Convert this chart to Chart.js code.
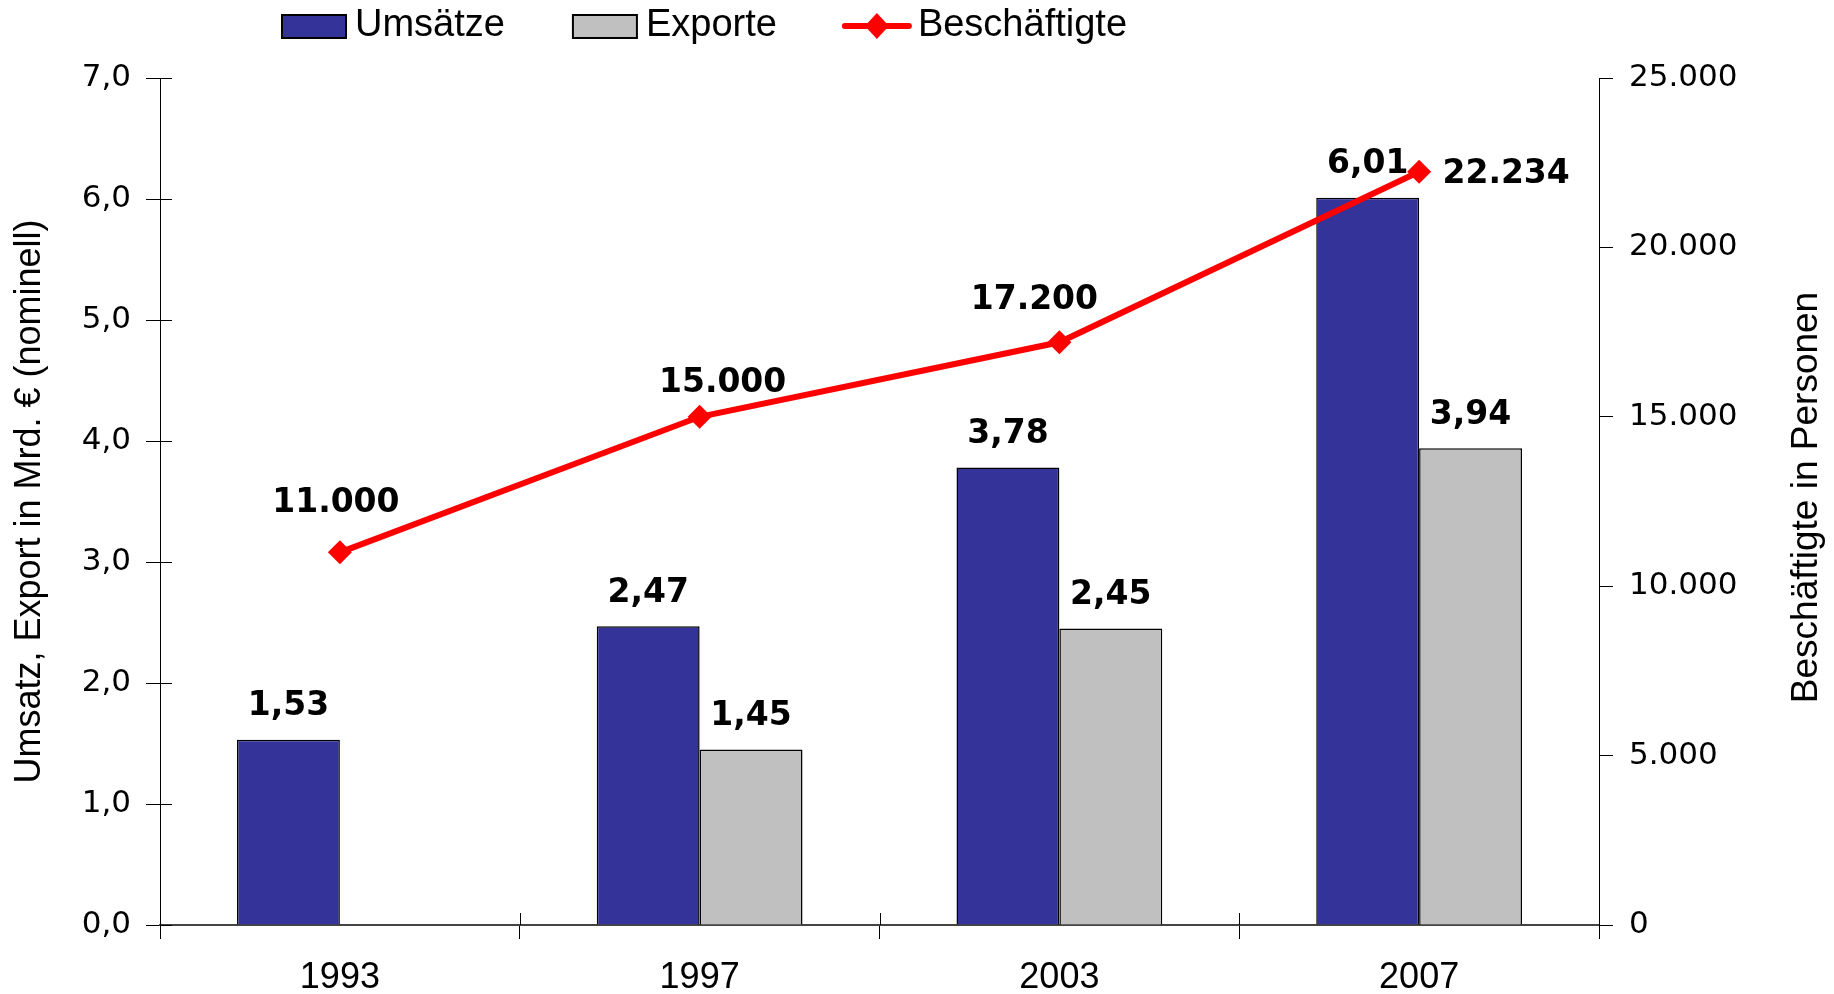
<!DOCTYPE html>
<html>
<head>
<meta charset="utf-8">
<script src="https://cdn.jsdelivr.net/npm/chart.js@4/dist/chart.umd.min.js"></script>
<style>
  html, body { margin: 0; padding: 0; background: #fff; }
</style>
</head>
<body>
<canvas id="chart" width="1834" height="994"></canvas>
<script>
var years = ['1993', '1997', '2003', '2007'];
var umsaetze = [1.53, 2.47, 3.78, 6.01];
var exporte = [null, 1.45, 2.45, 3.94];
var beschaeftigte = [11000, 15000, 17200, 22234];

// label offsets for the line values, relative to each point
var lineLabelOffsets = [[-4, -49], [23, -33], [-25, -42], [87, 3]];

var NARROW = '"Liberation Sans Narrow", "Arial Narrow", "Liberation Sans", Arial';

function de(n, d) {
  var s = n.toFixed(d).split('.');
  s[0] = s[0].replace(/\B(?=(\d{3})+(?!\d))/g, '.');
  return s.join(',');
}

var labelPlugin = {
  id: 'valueLabels',
  afterDatasetsDraw: function (chart) {
    var ctx = chart.ctx;
    ctx.save();
    ctx.font = 'bold 33px "DejaVu Sans"';
    ctx.fillStyle = '#000';
    ctx.textAlign = 'center';
    ctx.textBaseline = 'middle';
    [0, 1].forEach(function (di) {
      chart.getDatasetMeta(di).data.forEach(function (bar, i) {
        var v = chart.data.datasets[di].data[i];
        if (v == null) return;
        ctx.fillText(de(v, 2), bar.x, bar.y - 33);
      });
    });
    chart.getDatasetMeta(2).data.forEach(function (pt, i) {
      var o = lineLabelOffsets[i];
      ctx.fillText(de(beschaeftigte[i], 0), pt.x + o[0], pt.y + o[1]);
    });
    ctx.restore();
  },
  afterDraw: function (chart) {
    var ctx = chart.ctx;
    var area = chart.chartArea;

    // inner halves of the crossing tick marks (left and bottom axis)
    ctx.save();
    ctx.strokeStyle = '#000';
    ctx.lineWidth = 1;
    ctx.beginPath();
    chart.scales.y.ticks.forEach(function (t) {
      var py = Math.round(chart.scales.y.getPixelForValue(t.value)) + 0.5;
      ctx.moveTo(area.left, py);
      ctx.lineTo(area.left + 12, py);
    });
    var xs = chart.scales.x;
    for (var i = 0; i <= years.length; i++) {
      var px = Math.round(xs.left + i * xs.width / years.length) + 0.5;
      ctx.moveTo(px, area.bottom);
      ctx.lineTo(px, area.bottom - 12);
    }
    ctx.stroke();
    ctx.restore();

    ctx.save();
    // right axis title, reading bottom to top
    ctx.font = '37px ' + NARROW;
    ctx.fillStyle = '#000';
    ctx.textAlign = 'center';
    ctx.textBaseline = 'middle';
    ctx.translate(chart.scales.y1.right - 27, (area.top + area.bottom) / 2 - 4);
    ctx.rotate(-Math.PI / 2);
    ctx.fillText('Beschäftigte in Personen', 0, 0);
    ctx.restore();

    // legend
    ctx.save();
    ctx.font = '38px ' + NARROW;
    ctx.textBaseline = 'middle';
    ctx.textAlign = 'left';
    var x = 282, cy = 26;
    chart.data.datasets.forEach(function (ds) {
      if (ds.type === 'line') {
        ctx.strokeStyle = ds.borderColor;
        ctx.lineWidth = 6;
        ctx.lineCap = 'round';
        ctx.beginPath();
        ctx.moveTo(x, cy);
        ctx.lineTo(x + 64, cy);
        ctx.stroke();
        ctx.fillStyle = ds.borderColor;
        ctx.beginPath();
        ctx.moveTo(x + 32, cy - 13);
        ctx.lineTo(x + 44, cy);
        ctx.lineTo(x + 32, cy + 13);
        ctx.lineTo(x + 20, cy);
        ctx.closePath();
        ctx.fill();
      } else {
        ctx.fillStyle = ds.backgroundColor;
        ctx.fillRect(x, cy - 11, 64, 23);
        ctx.strokeStyle = '#000';
        ctx.lineWidth = 2;
        ctx.strokeRect(x, cy - 11, 64, 23);
      }
      ctx.fillStyle = '#000';
      ctx.fillText(ds.label, x + 73, cy);
      x += 73 + ctx.measureText(ds.label).width + 68;
    });
    ctx.restore();
  }
};

var ctx = document.getElementById('chart').getContext('2d');
var chart = new Chart(ctx, {
  type: 'bar',
  data: {
    labels: years,
    datasets: [
      {
        label: 'Umsätze',
        data: umsaetze,
        backgroundColor: '#333399',
        borderColor: '#000',
        borderWidth: 1.5,
        yAxisID: 'y',
        order: 1
      },
      {
        label: 'Exporte',
        data: exporte,
        backgroundColor: '#C0C0C0',
        borderColor: '#000',
        borderWidth: 1.5,
        yAxisID: 'y',
        order: 1
      },
      {
        type: 'line',
        label: 'Beschäftigte',
        data: beschaeftigte,
        borderColor: '#FF0000',
        backgroundColor: '#FF0000',
        borderWidth: 6,
        pointStyle: 'rectRot',
        pointRadius: 12,
        pointHoverRadius: 12,
        pointBorderWidth: 0,
        tension: 0,
        yAxisID: 'y1',
        order: 0
      }
    ]
  },
  options: {
    responsive: false,
    animation: false,
    devicePixelRatio: 1,
    layout: { padding: { top: 78, left: 0, right: 0, bottom: 0 } },
    datasets: {
      bar: { categoryPercentage: 0.572, barPercentage: 1 }
    },
    plugins: {
      legend: { display: false },
      tooltip: { enabled: false }
    },
    scales: {
      x: {
        afterFit: function (s) { s.height = 69; },
        grid: { offset: true, drawOnChartArea: false, tickLength: 14, color: '#000' },
        border: { color: '#444', width: 2 },
        ticks: { color: '#000', padding: 17, font: { family: NARROW, size: 36 } }
      },
      y: {
        position: 'left',
        min: 0,
        max: 7,
        afterFit: function (s) { s.width = 160; },
        grid: { drawOnChartArea: false, tickLength: 14, color: '#000' },
        border: { color: '#000', width: 1 },
        ticks: {
          stepSize: 1,
          padding: 15,
          color: '#000',
          font: { family: '"DejaVu Sans"', size: 31 },
          callback: function (v) { return de(v, 1); }
        },
        title: {
          display: true,
          text: 'Umsatz, Export in Mrd. € (nominell)',
          color: '#000',
          padding: { top: 8, bottom: 0 },
          font: { family: NARROW, size: 36 }
        }
      },
      y1: {
        position: 'right',
        min: 0,
        max: 25000,
        afterFit: function (s) { s.width = 235; },
        grid: { drawOnChartArea: false, tickLength: 14, color: '#000' },
        border: { color: '#000', width: 1 },
        ticks: {
          stepSize: 5000,
          padding: 16,
          color: '#000',
          font: { family: '"DejaVu Sans"', size: 31 },
          callback: function (v) { return de(v, 0); }
        }
      }
    }
  },
  plugins: [labelPlugin]
});
</script>
</body>
</html>
